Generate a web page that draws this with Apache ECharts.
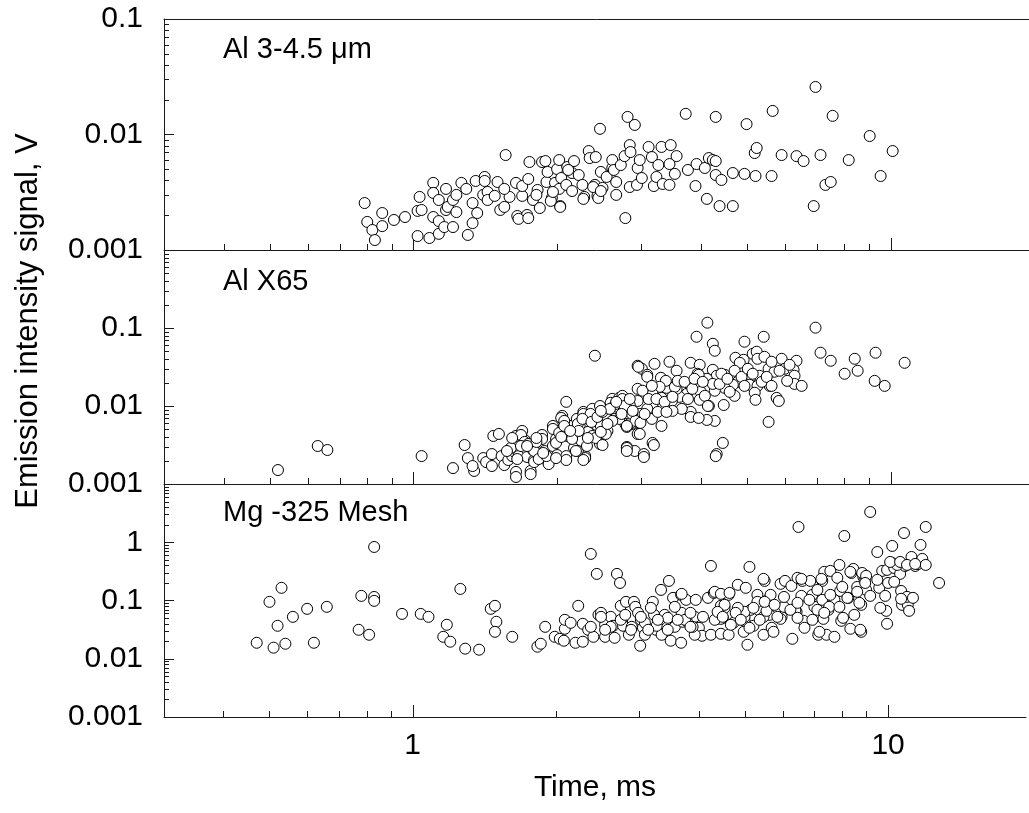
<!DOCTYPE html>
<html><head><meta charset="utf-8">
<script src="https://cdn.jsdelivr.net/npm/echarts@6/dist/echarts.min.js"></script>
<style>html,body{margin:0;padding:0;background:#fff}#c{width:1029px;height:813px}</style>
</head><body><div id="c"></div>
<script>
// ---------- data ----------
const panelNames = ['Al 3-4.5 μm', 'Al X65', 'Mg -325 Mesh'];
const xTitle = 'Time, ms';
const yTitle = 'Emission intensity signal, V';
const xRange = [0.3, 19.5];
const yRanges = [[0.001, 0.1], [0.001, 1], [0.001, 10]];
const xMajorTicks = [1, 10];
const xMinorTicks = [0.4, 0.5, 0.6, 0.7, 0.8, 0.9, 2, 3, 4, 5, 6, 7, 8, 9];
const minorMultipliers = [2, 3, 4, 5, 6, 7, 8, 9];

const al345 = [[0.79,0.00255],[0.80,0.00175],[0.82,0.00149],[0.83,0.00122],[0.86,0.00209],[0.86,0.00161],[0.91,0.00182],[0.96,0.00193],[1.02,0.00132],[1.03,0.00288],[1.02,0.00218],[1.04,0.00222],[1.08,0.00127],[1.10,0.00381],[1.10,0.00312],[1.10,0.00193],[1.13,0.00271],[1.13,0.00178],[1.13,0.00138],[1.16,0.00158],[1.17,0.00338],[1.17,0.00222],[1.18,0.00236],[1.21,0.00271],[1.21,0.00158],[1.23,0.0030],[1.23,0.00213],[1.26,0.00381],[1.29,0.00338],[1.30,0.00135],[1.33,0.00255],[1.33,0.00171],[1.35,0.00396],[1.36,0.00209],[1.41,0.00429],[1.41,0.00396],[1.40,0.0030],[1.43,0.00318],[1.43,0.00271],[1.48,0.00294],[1.50,0.00388],[1.52,0.00222],[1.55,0.00236],[1.56,0.00664],[1.59,0.00288],[1.64,0.00381],[1.65,0.00197],[1.69,0.00294],[1.69,0.00358],[1.73,0.00201],[1.74,0.00412],[1.75,0.00578],[1.78,0.00271],[1.82,0.00331],[1.84,0.00231],[1.86,0.00578],[1.89,0.00589],[1.90,0.00388],[1.91,0.00474],[1.95,0.00282],[1.98,0.00381],[2.00,0.00502],[2.02,0.00601],[2.02,0.00338],[2.04,0.0042],[2.03,0.0024],[2.10,0.00523],[2.09,0.00366],[2.15,0.00464],[2.17,0.00589],[2.22,0.00446],[2.26,0.00366],[2.28,0.00288],[2.33,0.00719],[2.34,0.00625],[2.40,0.00366],[2.41,0.00638],[2.43,0.00294],[2.46,0.0112],[2.47,0.00474],[2.49,0.00345],[2.54,0.00429],[2.61,0.00513],[2.61,0.00601],[2.66,0.00388],[2.66,0.0030],[1.55,0.00338],[1.66,0.00186],[1.74,0.00189],[1.81,0.0030],[1.94,0.00266],[1.96,0.00318],[2.03,0.00236],[2.11,0.00493],[2.15,0.00324],[2.27,0.00277],[2.38,0.00351],[2.44,0.00282],[2.47,0.00324],[2.63,0.00493],[2.72,0.00544],[2.77,0.0065],[2.78,0.00189],[2.81,0.0142],[2.84,0.0081],[2.84,0.00351],[2.85,0.00705],[2.91,0.0121],[2.94,0.00366],[2.95,0.00513],[2.98,0.00601],[3.01,0.0042],[3.11,0.0078],[3.16,0.00638],[3.19,0.00358],[3.23,0.00429],[3.26,0.00544],[3.31,0.0078],[3.33,0.00373],[3.44,0.00366],[3.44,0.00555],[3.46,0.0081],[3.53,0.00456],[3.56,0.0065],[3.72,0.0151],[3.76,0.00493],[3.90,0.00358],[3.92,0.00555],[4.08,0.00513],[4.12,0.00277],[4.16,0.00625],[4.24,0.00601],[4.30,0.0142],[4.30,0.00589],[4.30,0.00446],[4.38,0.0024],[4.42,0.00404],[4.67,0.00464],[4.67,0.0024],[4.94,0.00456],[4.99,0.0123],[5.19,0.00691],[5.21,0.00437],[5.24,0.00764],[5.63,0.00437],[5.66,0.0160],[5.91,0.00664],[6.35,0.0065],[6.57,0.00589],[6.90,0.0024],[6.96,0.0258],[7.13,0.00664],[7.30,0.00366],[7.49,0.00388],[7.56,0.0145],[8.17,0.00601],[9.04,0.0097],[9.53,0.00437],[10.1,0.00719]];

const alX65 = [[0.52,0.00151],[0.63,0.00307],[0.66,0.00273],[1.04,0.00228],[1.21,0.0016],[1.28,0.00316],[1.30,0.00215],[1.34,0.00147],[1.33,0.0017],[1.40,0.00215],[1.42,0.00191],[1.46,0.00242],[1.46,0.0017],[1.47,0.00413],[1.51,0.00438],[1.53,0.00228],[1.55,0.00175],[1.58,0.00203],[1.61,0.00228],[1.63,0.00257],[1.64,0.00413],[1.64,0.00143],[1.66,0.00228],[1.69,0.00479],[1.71,0.00367],[1.73,0.00222],[1.76,0.00147],[1.78,0.00273],[1.79,0.00203],[1.84,0.00242],[1.86,0.00425],[1.86,0.00378],[1.88,0.00265],[1.91,0.00197],[1.96,0.00555],[1.96,0.00307],[1.99,0.00378],[2.00,0.00235],[2.02,0.00479],[2.05,0.00746],[2.09,0.0113],[2.09,0.00228],[2.10,0.00413],[2.14,0.00555],[2.17,0.0029],[2.20,0.00683],[2.23,0.00555],[2.25,0.00356],[2.27,0.0084],[2.29,0.00228],[2.32,0.00465],[2.37,0.00918],[2.37,0.00413],[2.40,0.0441],[2.42,0.00572],[2.46,0.0100],[2.46,0.00326],[2.49,0.00465],[2.54,0.00746],[2.55,0.00479],[2.61,0.01234],[2.64,0.00683],[2.68,0.00974],[2.70,0.0127],[2.74,0.0135],[2.78,0.00589],[2.80,0.00298],[2.82,0.0103],[2.87,0.00589],[2.91,0.00265],[2.95,0.0328],[2.95,0.0166],[2.95,0.00438],[4.13,0.117],[3.92,0.0772],[4.24,0.0628],[4.28,0.0511],[4.94,0.0667],[5.42,0.0772],[6.96,0.101],[7.13,0.0482],[7.49,0.038],[8.01,0.0259],[8.41,0.0403],[8.53,0.0283],[9.30,0.0482],[9.26,0.0210],[9.72,0.0181],[10.7,0.0358],[3.01,0.030],[3.09,0.0251],[3.20,0.0347],[3.44,0.0369],[3.30,0.023],[3.56,0.0283],[3.81,0.0358],[3.98,0.0337],[3.94,0.0259],[4.24,0.0291],[4.49,0.0251],[4.73,0.0415],[4.92,0.0391],[5.14,0.0467],[5.24,0.0496],[5.26,0.0403],[5.44,0.0427],[5.55,0.030],[5.91,0.0403],[6.00,0.030],[6.35,0.038],[6.26,0.0291],[6.29,0.0244],[6.29,0.0192],[6.51,0.0181],[5.71,0.0275],[5.58,0.0181],[5.11,0.0244],[5.31,0.0244],[5.06,0.0187],[5.26,0.0181],[5.19,0.0148],[5.21,0.0120],[5.77,0.0127],[5.83,0.0116],[5.55,0.00625],[4.83,0.0358],[4.71,0.0283],[4.78,0.0204],[4.67,0.0187],[4.45,0.0204],[4.49,0.0171],[4.47,0.0103],[4.32,0.0244],[4.28,0.0157],[4.16,0.0100],[4.28,0.00644],[4.12,0.00663],[4.00,0.0152],[3.98,0.0120],[3.81,0.0181],[3.81,0.0084],[3.81,0.00724],[3.96,0.00703],[3.74,0.0143],[3.61,0.0131],[3.65,0.00918],[3.56,0.0166],[3.48,0.0116],[3.49,0.00866],[3.39,0.0171],[3.38,0.021],[3.28,0.0176],[3.31,0.0127],[3.17,0.0143],[3.17,0.0106],[3.16,0.00683],[3.31,0.00555],[3.09,0.00918],[3.02,0.0157],[2.95,0.0116],[2.84,0.0103],[2.98,0.00791],[2.95,0.00625],[2.84,0.00589],[2.98,0.00438],[3.17,0.00336],[2.80,0.0029],[3.04,0.00242],[4.45,0.00336],[4.32,0.00242],[2.74,0.0123],[4.71,0.0135],[4.12,0.0223],[4.24,0.0192],[1.64,0.00123],[1.76,0.00134],[1.68,0.00425],[1.71,0.00346],[1.65,0.00209],[1.79,0.00265],[1.79,0.00191],[1.92,0.0018],[1.96,0.00508],[1.99,0.00336],[2.02,0.00452],[2.09,0.00203],[2.04,0.00703],[2.07,0.00644],[2.21,0.00589],[2.21,0.00265],[2.27,0.00791],[2.29,0.00215],[2.35,0.00791],[2.41,0.00389],[2.47,0.00555],[2.49,0.00316],[2.53,0.00438],[2.59,0.0110],[2.65,0.0106],[2.70,0.00683],[2.80,0.00265],[3.04,0.00222],[2.96,0.0318],[3.09,0.0237],[3.19,0.00316],[3.53,0.0176],[3.96,0.0251],[4.30,0.00228],
[2.77,0.0100],[2.80,0.00539],[2.87,0.00791],[2.92,0.00644],[2.99,0.00607],[3.05,0.00791],[3.11,0.0123],[3.16,0.0181],[3.23,0.0123],[3.25,0.0084],[3.36,0.0113],[3.39,0.0084],[3.49,0.0131],[3.58,0.021],[3.70,0.0204],[3.76,0.0123],[3.84,0.0166],[3.88,0.0223],[4.04,0.0204],[4.08,0.0135],[4.14,0.0100],[4.38,0.0192],[4.42,0.0259],[4.55,0.0223],[4.60,0.0152],[4.87,0.0236],[4.94,0.0181],[5.02,0.030],[5.14,0.0259],[5.37,0.0204],[5.50,0.0236],[5.63,0.0181],[5.63,0.0369],[5.85,0.0283],[6.07,0.021],[6.14,0.0337],
[1.60,0.0029],[1.68,0.00307],[1.74,0.00326],[1.81,0.00346],[1.83,0.00209],[1.90,0.00228],[2.04,0.00401],[2.07,0.00555],[2.15,0.00378],[2.22,0.00479],[2.26,0.00683],[2.31,0.00307],[2.36,0.00625],[2.43,0.00724],[2.47,0.00465],[2.49,0.0084],[2.58,0.00918],[2.61,0.00644],[2.66,0.0113],[2.73,0.00791],[2.80,0.00555],[2.84,0.0123],[2.88,0.00866],
[1.57,0.00265],[1.61,0.00389],[1.73,0.00307],[1.81,0.00389],[1.87,0.0025],[1.99,0.00215],[2.13,0.00479],[2.19,0.00265],[2.32,0.00389],[2.27,0.00203],[2.47,0.00866],[2.55,0.00589]];

const mg325 = [[0.47,0.0188],[0.50,0.0948],[0.51,0.0155],[0.52,0.0368],[0.53,0.165],[0.54,0.0181],[0.56,0.0524],[0.60,0.0719],[0.62,0.0188],[0.66,0.0778],[0.77,0.0314],[0.78,0.120],[0.81,0.0258],[0.83,0.83],[0.83,0.115],[0.83,0.0986],[0.95,0.0589],[1.04,0.0589],[1.08,0.0524],[1.16,0.0238],[1.18,0.0383],[1.20,0.0196],[1.26,0.158],[1.29,0.0149],[1.38,0.0143],[1.46,0.0719],[1.49,0.081],[1.50,0.0431],[1.49,0.029],[1.62,0.0238],[1.83,0.0161],[1.86,0.0181],[1.90,0.0353],[1.99,0.0238],[2.04,0.022],[2.08,0.0204],[2.09,0.0327],[2.09,0.0466],[2.23,0.081],[2.20,0.0188],[2.28,0.0398],[2.28,0.0196],[2.34,0.0314],[2.37,0.63],[2.40,0.0238],[2.44,0.286],[2.46,0.0567],[2.49,0.0614],[2.54,0.0383],[2.54,0.0238],[2.61,0.0524],[2.64,0.0368],[2.66,0.0229],[2.69,0.286],[2.73,0.20],[2.74,0.081],[2.76,0.0466],[2.77,0.0368],[2.81,0.0948],[2.85,0.0258],[2.89,0.0353],[2.92,0.0948],[2.94,0.0778],[2.98,0.0614],[3.02,0.0466],[3.05,0.034],[3.08,0.0258],[3.01,0.0167],[3.08,0.0414],[3.20,0.0948],[3.22,0.0567],[3.25,0.0314],[3.33,0.152],[3.31,0.0466],[3.34,0.0258],[3.39,0.0567],[3.44,0.0504],[3.46,0.217],[3.53,0.111],[3.49,0.0204],[3.56,0.0353],[3.67,0.0188],[3.67,0.125],[3.68,0.0614],[3.70,0.0431],[3.76,0.1026],[3.88,0.0368],[3.92,0.0524],[3.94,0.1026],[3.26,0.0368],[3.77,0.0448],[4.00,0.034],[4.06,0.0248],[4.18,0.111],[4.24,0.392],[4.24,0.0258],[4.30,0.135],[4.36,0.0484],[4.45,0.081],[4.45,0.0268],[4.49,0.0504],[4.53,0.0748],[4.62,0.125],[4.62,0.0258],[4.73,0.0414],[4.83,0.186],[4.85,0.0664],[4.99,0.0448],[5.02,0.165],[5.06,0.0174],[5.11,0.377],[5.14,0.0691],[4.97,0.029],[5.21,0.0368],[5.31,0.125],[5.34,0.0691],[5.50,0.217],[5.47,0.0258],[5.55,0.0986],[5.63,0.0567],[5.69,0.034],[5.66,0.125],[5.74,0.029],[5.94,0.193],[5.97,0.0524],[6.04,0.0778],[6.07,0.217],[6.26,0.178],[6.29,0.022],[6.45,0.245],[6.42,0.0638],[6.48,1.83],[6.57,0.120],[6.60,0.217],[6.64,0.0448],[6.67,0.034],[6.86,0.217],[6.93,0.125],[7.00,0.0778],[7.10,0.0691],[7.13,0.0258],[7.27,0.217],[7.31,0.0484],[7.34,0.31],[7.42,0.0258],[7.49,0.0691],[7.56,0.322],[7.71,0.0238],[7.71,0.1026],[7.82,0.245],[7.90,0.408],[7.93,0.146],[7.97,0.0448],[8.09,1.28],[8.25,0.111],[8.33,0.0327],[8.37,0.297],[8.45,0.348],[8.49,0.0567],[8.61,0.171],[8.78,0.0842],[8.78,0.029],[8.87,0.254],[8.95,0.245],[8.99,0.152],[9.17,3.31],[9.17,0.120],[9.49,0.68],[9.58,0.165],[9.72,0.322],[9.86,0.12],[9.91,0.0664],[9.95,0.335],[9.95,0.0398],[10.0,0.20],[10.2,0.864],[10.2,0.441],[10.3,0.362],[10.6,0.286],[10.65,0.146],[10.7,0.0842],[10.8,1.44],[10.85,0.392],[11.0,0.0842],[11.07,0.0664],[11.2,0.559],[11.4,0.392],[11.56,0.424],[11.7,0.90],[11.8,0.517],[12.0,1.83],[12.0,0.408],[12.8,0.20],[3.68,0.13],[4.32,0.141],[4.45,0.13],[4.64,0.135],[4.53,0.0842],[5.47,0.235],[6.57,0.235],[7.24,0.235],[8.33,0.31],[8.82,0.297],[8.99,0.265],[10.45,0.408],[5.47,0.0524],[4.99,0.0524],[4.45,0.0484],[3.92,0.0258],[7.17,0.029],[8.74,0.0314],[10.96,0.1155],[11.28,0.111],[10.65,0.107],[8.04,0.0504],[7.27,0.1026],[7.52,0.0778],[6.04,0.115],[6.38,0.0691],[5.55,0.0664],[5.31,0.0948],[4.99,0.0638],[4.83,0.0748],[5.94,0.0484],
[3.74,0.0466],[3.84,0.0614],[3.88,0.0353],[4.08,0.0524],[4.32,0.0466],[4.38,0.0638],[4.49,0.0524],[4.67,0.0383],[4.78,0.0614],[4.90,0.0466],[5.11,0.034],[5.21,0.0748],[5.37,0.0466],[5.50,0.0948],[5.77,0.0842],[5.85,0.0524],[6.23,0.0691],[6.45,0.0911],[6.45,0.0504],[6.83,0.1026],[6.93,0.0466],[7.10,0.152],[7.34,0.0614],[7.56,0.125],[7.90,0.0778],[8.01,0.171],[8.21,0.111],[8.61,0.141],[8.70,0.0911],[8.95,0.20],[9.49,0.226],[9.63,0.0748],[10.1,0.459],[10.3,0.209],[10.6,0.459],[10.96,0.408],[11.4,0.424],
[2.15,0.0414],[2.37,0.0353],[2.49,0.0524],[2.61,0.0353],[2.74,0.0466],[2.88,0.0314],[3.02,0.0524],[3.13,0.0314],[3.28,0.0466],[3.44,0.0314],[3.61,0.0466],[3.84,0.0353],[3.56,0.0778],[3.17,0.0748],[2.80,0.0567],[2.54,0.0314]];

const panelData = [al345, alX65, mg325];

// ---------- style ----------
const FONT = "'Liberation Sans', Arial, sans-serif";
const AXIS = '#1a1a1a';
const gridBoxes = [{top: 19, height: 231}, {top: 250, height: 234}, {top: 484, height: 233}];
const labelY = [50, 282, 513];

function isDecade(v) { const l = Math.log10(v); return Math.abs(l - Math.round(l)) < 1e-6; }
function fmt(v) { return String(parseFloat(v.toPrecision(1))); }

function yMinorValues(r) {
  const out = [];
  for (let d = r[0]; d < r[1] * 0.999; d *= 10) {
    minorMultipliers.forEach(m => out.push(parseFloat((m * d).toPrecision(2))));
  }
  return out;
}

function xTickSeries(i, values, len) {
  return {
    type: 'custom', xAxisIndex: i, yAxisIndex: i, silent: true, z: 3,
    data: values.map(t => [t, yRanges[i][0]]),
    renderItem: (p, api) => {
      const c = api.coord([api.value(0), api.value(1)]);
      const x = Math.round(c[0]) + 0.5;
      return {type: 'line', shape: {x1: x, y1: c[1], x2: x, y2: c[1] - len}, style: {stroke: AXIS, lineWidth: 1}};
    }
  };
}

const series = [];
panelData.forEach((data, i) => {
  series.push(xTickSeries(i, xMinorTicks, 6));
  series.push(xTickSeries(i, xMajorTicks, 12));
  series.push({
    type: 'custom', xAxisIndex: i, yAxisIndex: i, silent: true, z: 3,
    data: yMinorValues(yRanges[i]).map(v => [xRange[0], v]),
    renderItem: (p, api) => {
      const c = api.coord([api.value(0), api.value(1)]);
      const y = Math.round(c[1]) + 0.5;
      return {type: 'line', shape: {x1: c[0], y1: y, x2: c[0] + 5, y2: y}, style: {stroke: AXIS, lineWidth: 1}};
    }
  });
  series.push({
    type: 'scatter', xAxisIndex: i, yAxisIndex: i, data: data,
    symbol: 'circle', symbolSize: 11, silent: true, z: 4,
    itemStyle: {color: '#ffffff', borderColor: '#000000', borderWidth: 1, opacity: 1}
  });
});

const xAxes = gridBoxes.map((g, i) => ({
  type: 'log', logBase: 10, gridIndex: i, min: xRange[0], max: xRange[1],
  axisLine: {show: true, onZero: false, lineStyle: {color: AXIS, width: 1}},
  axisTick: {show: false},
  axisLabel: {
    show: i === 2, margin: 14, color: '#000', fontFamily: FONT, fontSize: 30,
    formatter: v => isDecade(v) ? fmt(v) : ''
  },
  splitLine: {show: false}, minorTick: {show: false}, minorSplitLine: {show: false},
  name: i === 2 ? xTitle : '', nameLocation: 'middle', nameGap: 56,
  nameTextStyle: {color: '#000', fontFamily: FONT, fontSize: 30}
}));
// top frame line of the upper panel
xAxes.push({
  type: 'log', logBase: 10, gridIndex: 0, position: 'top', min: xRange[0], max: xRange[1],
  axisLine: {show: true, onZero: false, lineStyle: {color: AXIS, width: 1}},
  axisTick: {show: false}, axisLabel: {show: false}, splitLine: {show: false}
});

const option = {
  animation: false,
  backgroundColor: '#ffffff',
  grid: gridBoxes.map(g => ({left: 164, right: 0, top: g.top, height: g.height, show: false})),
  xAxis: xAxes,
  yAxis: gridBoxes.map((g, i) => ({
    type: 'log', logBase: 10, gridIndex: i, min: yRanges[i][0], max: yRanges[i][1],
    axisLine: {show: true, onZero: false, lineStyle: {color: AXIS, width: 1}},
    axisTick: {show: true, inside: true, length: 10, lineStyle: {color: AXIS, width: 1}},
    axisLabel: {
      show: true, margin: 21, color: '#000', fontFamily: FONT, fontSize: 30,
      showMinLabel: true, showMaxLabel: true,
      formatter: v => {
        if (!isDecade(v)) return '';
        if (i > 0 && v > yRanges[i][1] * 0.999) return '';
        return fmt(v);
      }
    },
    splitLine: {show: false}, minorTick: {show: false}, minorSplitLine: {show: false}
  })),
  graphic: panelNames.map((n, i) => ({
    type: 'text', x: 223, y: labelY[i], silent: true,
    style: {text: n, font: '29px ' + FONT, fill: '#000', align: 'left', verticalAlign: 'middle'}
  })).concat([{
    type: 'text', x: 28, y: 321, rotation: Math.PI / 2, silent: true,
    style: {text: yTitle, font: '31px ' + FONT, fill: '#000', align: 'center', verticalAlign: 'middle'}
  }]),
  series: series
};

const chart = echarts.init(document.getElementById('c'), null, {renderer: 'canvas'});
chart.setOption(option);
</script>
</body></html>
